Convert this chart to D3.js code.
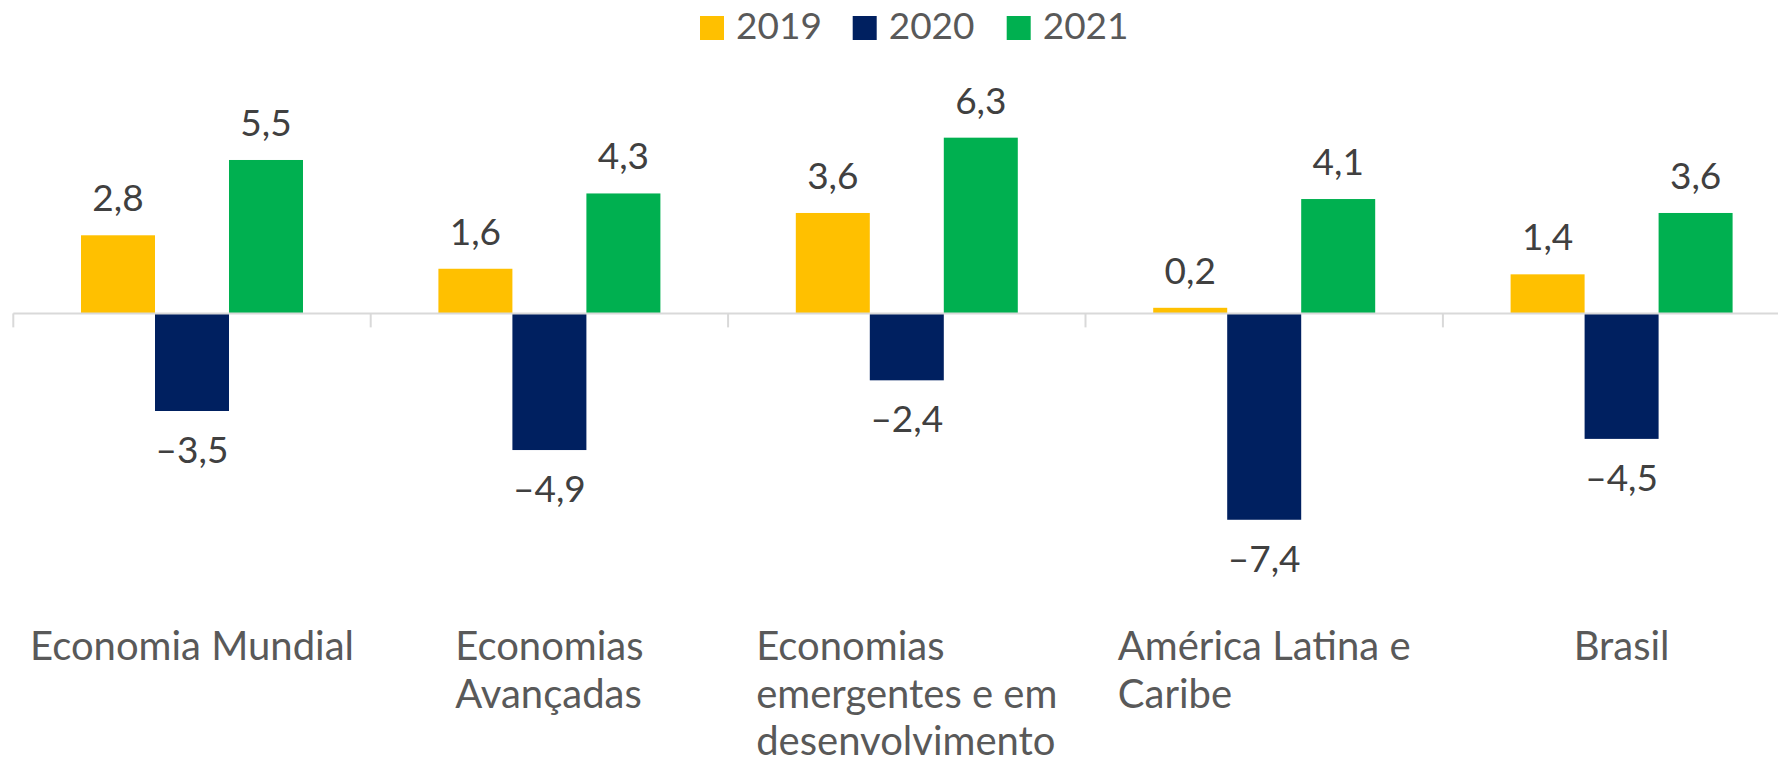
<!DOCTYPE html>
<html>
<head>
<meta charset="utf-8">
<script src="https://cdn.jsdelivr.net/npm/d3@7"></script>
<style>
  html, body { margin: 0; padding: 0; background: #ffffff; }
  svg { display: block; }
  text { font-family: Lato, "Noto Sans", sans-serif; }
</style>
</head>
<body>
<svg id="chart" width="1778" height="768"></svg>
<script>
// ---- data ----
const categories = [
  "Economia Mundial",
  "Economias Avançadas",
  "Economias emergentes e em desenvolvimento",
  "América Latina e Caribe",
  "Brasil"
];
const seriesNames = ["2019", "2020", "2021"];
const values2019 = [2.8, 1.6, 3.6, 0.2, 1.4];
const values2020 = [-3.5, -4.9, -2.4, -7.4, -4.5];
const values2021 = [5.5, 4.3, 6.3, 4.1, 3.6];
const seriesColors = ["#FFC000", "#002060", "#00B050"];

const seriesValues = [values2019, values2020, values2021];
const rows = [];
categories.forEach((c, i) => {
  seriesNames.forEach((s, j) => rows.push({ cat: c, series: s, value: seriesValues[j][i], color: seriesColors[j] }));
});

// ---- layout ----
const svg = d3.select("#chart");
const fontSize = 37;
const catFontSize = 40;
const fmt = v => (v < 0 ? "\u2013" : "") + Math.abs(v).toFixed(1).replace(".", ",");

const x = d3.scaleBand().domain(categories).range([13.3, 1800.3]).paddingInner(0).paddingOuter(0);
const xs = d3.scaleBand().domain(seriesNames).range([0, x.bandwidth()]).paddingInner(0).paddingOuter(0.915);
const y = d3.scaleLinear().domain([-8.5, 7]).range([550.45, 118.15]);

// bars
const g = svg.append("g");
g.selectAll("rect.bar").data(rows).join("rect")
  .attr("class", "bar")
  .attr("x", d => x(d.cat) + xs(d.series))
  .attr("width", xs.bandwidth())
  .attr("y", d => Math.min(y(d.value), y(0)))
  .attr("height", d => Math.abs(y(d.value) - y(0)))
  .attr("fill", d => d.color);

// axis line + category boundary ticks
const y0 = y(0);
const boundaries = categories.map(c => x(c)).concat([x.range()[1]]);
svg.append("line")
  .attr("x1", x.range()[0]).attr("x2", x.range()[1])
  .attr("y1", y0).attr("y2", y0)
  .attr("stroke", "#D9D9D9").attr("stroke-width", 2);
svg.selectAll("line.tick").data(boundaries).join("line")
  .attr("class", "tick")
  .attr("x1", d => d).attr("x2", d => d)
  .attr("y1", y0).attr("y2", y0 + 14)
  .attr("stroke", "#D9D9D9").attr("stroke-width", 2);

// data labels
svg.selectAll("text.lbl").data(rows).join("text")
  .attr("class", "lbl")
  .attr("x", d => x(d.cat) + xs(d.series) + xs.bandwidth() / 2)
  .attr("y", d => d.value >= 0 ? y(d.value) - 24 : y(d.value) + 52)
  .attr("text-anchor", "middle")
  .attr("font-size", fontSize)
  .attr("fill", "#404040")
  .text(d => fmt(d.value));

// category labels (wrapped, block centered, lines left-aligned)
const wrapWidth = 340;
const lineHeight = 47.5;
const firstBaseline = 660;
categories.forEach(c => {
  const t = svg.append("text").attr("font-size", catFontSize).attr("fill", "#595959");
  const words = c.split(" ");
  const lines = [];
  let cur = [];
  const probe = t.append("tspan");
  words.forEach(w => {
    const test = cur.concat([w]).join(" ");
    probe.text(test);
    if (probe.node().getComputedTextLength() > wrapWidth && cur.length) {
      lines.push(cur.join(" "));
      cur = [w];
    } else {
      cur.push(w);
    }
  });
  if (cur.length) lines.push(cur.join(" "));
  let maxW = 0;
  lines.forEach(l => { probe.text(l); maxW = Math.max(maxW, probe.node().getComputedTextLength()); });
  probe.remove();
  const cx = x(c) + x.bandwidth() / 2;
  const left = cx - maxW / 2;
  lines.forEach((l, i) => {
    t.append("tspan").attr("x", left).attr("y", firstBaseline + i * lineHeight).text(l);
  });
});

// legend
const legendX = [700, 852.7, 1006.7];
const lg = svg.selectAll("g.leg").data(seriesNames).join("g").attr("class", "leg")
  .attr("transform", (d, i) => `translate(${legendX[i]},0)`);
lg.append("rect").attr("x", 0).attr("y", 16).attr("width", 24).attr("height", 24)
  .attr("fill", (d, i) => seriesColors[i]);
lg.append("text").attr("x", 36).attr("y", 39.3)
  .attr("font-size", fontSize).attr("fill", "#595959").text(d => d);
</script>
</body>
</html>
